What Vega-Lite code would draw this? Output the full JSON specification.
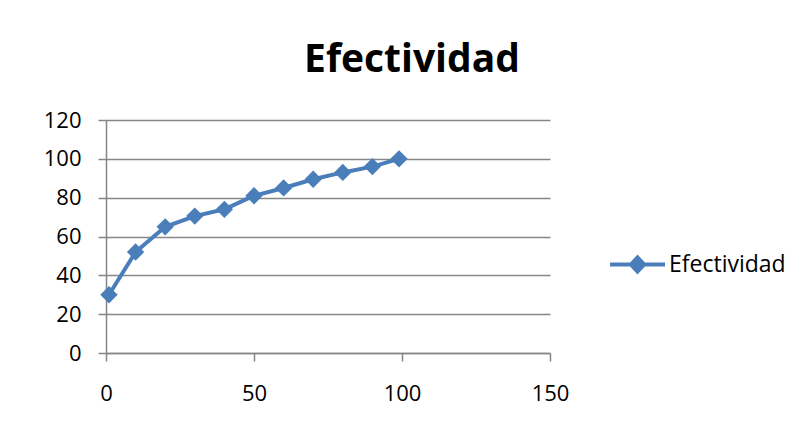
{
  "$schema": "https://vega.github.io/schema/vega-lite/v6.json",
  "width": 444,
  "height": 233,
  "autosize": {"type": "none"},
  "padding": {"left": 106, "top": 120, "right": 251, "bottom": 82},
  "background": "white",
  "title": {
    "text": "Efectividad",
    "font": "Open Sans",
    "fontSize": 39,
    "fontWeight": "bold",
    "color": "black",
    "anchor": "middle",
    "frame": "group",
    "dx": 84,
    "offset": 29
  },
  "config": {"view": {"stroke": null}, "font": "Open Sans"},
  "data": {
    "values": [
      {"x": 1, "y": 30, "serie": "Efectividad"},
      {"x": 10, "y": 52, "serie": "Efectividad"},
      {"x": 20, "y": 65, "serie": "Efectividad"},
      {"x": 30, "y": 70.5, "serie": "Efectividad"},
      {"x": 40, "y": 74, "serie": "Efectividad"},
      {"x": 50, "y": 81, "serie": "Efectividad"},
      {"x": 60, "y": 85, "serie": "Efectividad"},
      {"x": 70, "y": 89.5, "serie": "Efectividad"},
      {"x": 80, "y": 93, "serie": "Efectividad"},
      {"x": 90, "y": 96, "serie": "Efectividad"},
      {"x": 99, "y": 100, "serie": "Efectividad"}
    ]
  },
  "encoding": {
    "x": {
      "field": "x",
      "type": "quantitative",
      "scale": {"domain": [0, 150], "nice": false, "zero": false},
      "axis": {
        "title": null,
        "values": [0, 50, 100, 150],
        "grid": false,
        "tickSize": 8,
        "tickWidth": 1.5,
        "tickColor": "#868686",
        "domainColor": "#868686",
        "domainWidth": 1.5,
        "labelPadding": 22,
        "labelFontSize": 22,
        "labelColor": "black",
        "labelFont": "Open Sans",
        "labelFlush": false,
        "labelOverlap": false
      }
    },
    "y": {
      "field": "y",
      "type": "quantitative",
      "scale": {"domain": [0, 120], "nice": false},
      "axis": {
        "title": null,
        "values": [0, 20, 40, 60, 80, 100, 120],
        "grid": true,
        "gridColor": "#868686",
        "gridWidth": 1.4,
        "tickSize": 8,
        "tickWidth": 1.5,
        "tickColor": "#868686",
        "domainColor": "#868686",
        "domainWidth": 1.5,
        "labelPadding": 17,
        "labelFontSize": 22,
        "labelColor": "black",
        "labelFont": "Open Sans",
        "labelOverlap": false
      }
    },
    "color": {
      "field": "serie",
      "type": "nominal",
      "scale": {"range": ["#4A7EBB"]},
      "legend": {
        "title": null,
        "orient": "none",
        "legendX": 502,
        "legendY": 115,
        "padding": 0,
        "symbolType": "M-1,0H1M-0.24,0L0,-0.26L0.24,0L0,0.26Z",
        "symbolSize": 3025,
        "symbolStrokeWidth": 4,
        "symbolStrokeColor": "#4A7EBB",
        "symbolFillColor": "#4A7EBB",
        "symbolOpacity": 1,
        "labelFont": "Open Sans",
        "labelFontSize": 23,
        "labelColor": "black",
        "labelOffset": 2,
        "labelLimit": 300
      }
    }
  },
  "layer": [
    {"mark": {"type": "line", "strokeWidth": 4}},
    {"mark": {"type": "point", "shape": "diamond", "filled": true, "size": 300, "opacity": 1}}
  ]
}
